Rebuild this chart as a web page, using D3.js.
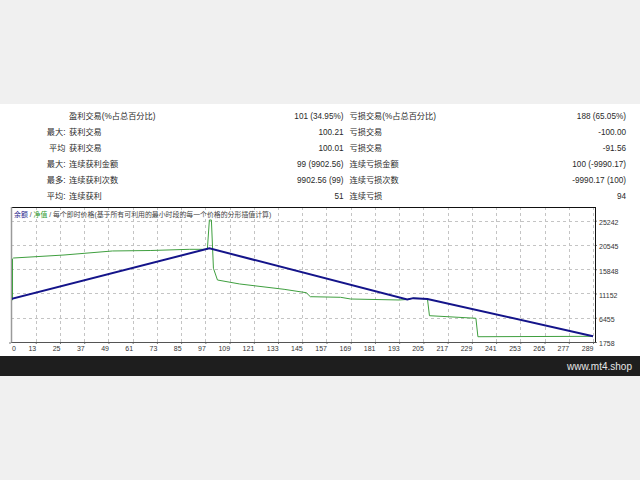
<!DOCTYPE html>
<html>
<head>
<meta charset="utf-8">
<script src="https://cdnjs.cloudflare.com/ajax/libs/d3/7.8.5/d3.min.js"></script>
<style>
    html, body { margin: 0; padding: 0; background: #f0f0f0; }
    svg { display: block; }
    text { font-family: "Liberation Sans", "Noto Sans CJK SC", sans-serif; }
</style>
</head>
<body>
<svg id="chart" width="640" height="480"></svg>
<script>
// stats table
const rowHeads   = ['', '最大:', '平均', '最大:', '最多:', '平均:'];
const winLabels  = ['盈利交易(%占总百分比)', '获利交易', '获利交易', '连续获利金额', '连续获利次数', '连续获利'];
const winValues  = ['101 (34.95%)', '100.21', '100.01', '99 (9902.56)', '9902.56 (99)', '51'];
const lossLabels = ['亏损交易(%占总百分比)', '亏损交易', '亏损交易', '连续亏损金额', '连续亏损次数', '连续亏损'];
const lossValues = ['188 (65.05%)', '-100.00', '-91.56', '100 (-9990.17)', '-9990.17 (100)', '94'];

// axis ticks
const xTicks = [0, 13, 25, 37, 49, 61, 73, 85, 97, 109, 121, 133, 145, 157, 169, 181, 193, 205, 217, 229, 241, 253, 265, 277, 289];
const yTicks = [1758, 6455, 11152, 15848, 20545, 25242];

// [trade #, value]
const balance = [[0, 10000], [99, 19900], [197, 9990], [200, 10250], [207, 10100], [289, 2888]];
const equity = [
    [0, 9900], [1.5, 9900], [1.5, 17850], [2, 18020], [27, 18600], [51, 19380], [70, 19470], [89, 19700],
    [98, 19700], [99, 25380], [100, 25380], [101, 16030], [103, 13760], [114, 12990],
    [136, 11960], [147, 11300], [149, 10530], [164, 10410], [169, 10080], [193, 9890],
    [197, 9990], [200, 10250], [207, 10100], [208, 6850], [231, 6350], [232, 2780], [289, 2860]
];

const titleParts = [
    {t: '余额', c: '#1c1c8c'},
    {t: ' / ', c: '#444'},
    {t: '净值', c: '#2e9a2e'},
    {t: ' / 每个即时价格(基于所有可利用的最小时段的每一个价格的分形插值计算)', c: '#444'}
];

const svg = d3.select('#chart');

// page bands
svg.append('rect').attr('width', 640).attr('height', 480).attr('fill', '#f0f0f0');
svg.append('rect').attr('y', 104).attr('width', 640).attr('height', 252).attr('fill', '#fff');
svg.append('rect').attr('y', 356).attr('width', 640).attr('height', 20).attr('fill', '#1e1e1e');
svg.append('text')
    .attr('x', 632).attr('y', 366)
    .attr('text-anchor', 'end').attr('dominant-baseline', 'central')
    .attr('font-size', 10).attr('fill', '#e6e6e6')
    .text('www.mt4.shop');

// table
let tbl = svg.append('g').attr('font-size', 8.2).attr('fill', '#2a2a2a');
rowHeads.forEach((h, i) => {
    let ty = 116.5 + i * 16;
    let cells = [
        {s: h, x: 65.5, a: 'end'},
        {s: winLabels[i], x: 69, a: 'start'},
        {s: winValues[i], x: 343.5, a: 'end'},
        {s: lossLabels[i], x: 349.5, a: 'start'},
        {s: lossValues[i], x: 626, a: 'end'}
    ];
    cells.forEach(c => {
        tbl.append('text')
            .attr('x', c.x).attr('y', ty)
            .attr('text-anchor', c.a)
            .attr('dominant-baseline', 'central')
            .text(c.s);
    });
});

// plot area
const plot = {left: 11, right: 595, top: 207, bottom: 342};

const x = d3.scaleLinear().domain([0, 289]).range([9.5, 593]);
const y = d3.scaleLinear().domain([1758, 25242]).range([342, 220.7]);

let grid = svg.append('g')
    .attr('stroke', '#c4c4c4')
    .attr('stroke-width', 1)
    .attr('stroke-dasharray', '3,3');

grid.selectAll('line.vx')
    .data(xTicks.filter(t => t > 0))
    .enter().append('line')
    .attr('class', 'vx')
    .attr('x1', d => Math.round(x(d)) + 0.5).attr('x2', d => Math.round(x(d)) + 0.5)
    .attr('y1', plot.top).attr('y2', plot.bottom);

grid.selectAll('line.hy')
    .data(yTicks.slice(1))
    .enter().append('line')
    .attr('class', 'hy')
    .attr('x1', plot.left).attr('x2', plot.right)
    .attr('y1', d => Math.round(y(d)) + 0.5).attr('y2', d => Math.round(y(d)) + 0.5);

// axes (group opacity keeps the small labels grey-antialiased)
let xAxis = svg.append('g')
    .attr('transform', `translate(0,${plot.bottom})`)
    .attr('opacity', 0.99)
    .call(d3.axisBottom(x).tickValues(xTicks).tickSize(2).tickPadding(2).tickFormat(d3.format('d')));
xAxis.select('.domain').remove();
xAxis.attr('font-size', 7).attr('font-family', null);
xAxis.selectAll('.tick line').attr('stroke', '#777');
xAxis.selectAll('.tick text')
    .attr('fill', '#333')
    .attr('text-anchor', d => d === 0 ? 'start' : 'end')
    .attr('dx', d => d === 0 ? 2 : 0);

let yAxis = svg.append('g')
    .attr('transform', `translate(${plot.right},0)`)
    .attr('opacity', 0.99)
    .call(d3.axisRight(y).tickValues(yTicks).tickSize(2).tickPadding(2).tickFormat(d3.format('d')));
yAxis.select('.domain').remove();
yAxis.attr('font-size', 7).attr('font-family', null);
yAxis.selectAll('.tick line').attr('stroke', '#777');
yAxis.selectAll('.tick text').attr('fill', '#333').attr('dy', '0.55em');

// frame, drawn under the curves
let frame = svg.append('g');
frame.append('line')
    .attr('x1', plot.left).attr('x2', plot.right + 0.5)
    .attr('y1', plot.top + 0.5).attr('y2', plot.top + 0.5)
    .attr('stroke', '#111');
frame.append('line')
    .attr('x1', plot.right + 0.5).attr('x2', plot.right + 0.5)
    .attr('y1', plot.top).attr('y2', plot.bottom + 0.5)
    .attr('stroke', '#111');
frame.append('line')
    .attr('x1', plot.left).attr('x2', plot.right + 0.5)
    .attr('y1', plot.bottom + 0.5).attr('y2', plot.bottom + 0.5)
    .attr('stroke', '#555');
frame.append('line')
    .attr('x1', plot.left + 0.5).attr('x2', plot.left + 0.5)
    .attr('y1', plot.top).attr('y2', plot.bottom + 0.5)
    .attr('stroke', '#9a9a9a').attr('stroke-width', 1.5);

// curves
svg.append('clipPath').attr('id', 'plot-clip')
    .append('rect')
    .attr('x', plot.left + 1).attr('y', plot.top)
    .attr('width', plot.right - plot.left - 1).attr('height', plot.bottom - plot.top);

let lineFunction = d3.line()
    .x(d => x(d[0]))
    .y(d => y(d[1]));

let curves = svg.append('g').attr('clip-path', 'url(#plot-clip)');
curves.append('path')
    .attr('d', lineFunction(equity))
    .attr('fill', 'none')
    .attr('stroke', '#3f9f3f')
    .attr('stroke-width', 1);
curves.append('path')
    .attr('d', lineFunction(balance))
    .attr('fill', 'none')
    .attr('stroke', '#14148a')
    .attr('stroke-width', 2);

// legend / title inside the plot
let title = svg.append('text')
    .attr('x', 14).attr('y', 214)
    .attr('dominant-baseline', 'central')
    .attr('font-size', 6.9);
titleParts.forEach(p => {
    title.append('tspan').attr('fill', p.c).text(p.t);
});
</script>
</body>
</html>
